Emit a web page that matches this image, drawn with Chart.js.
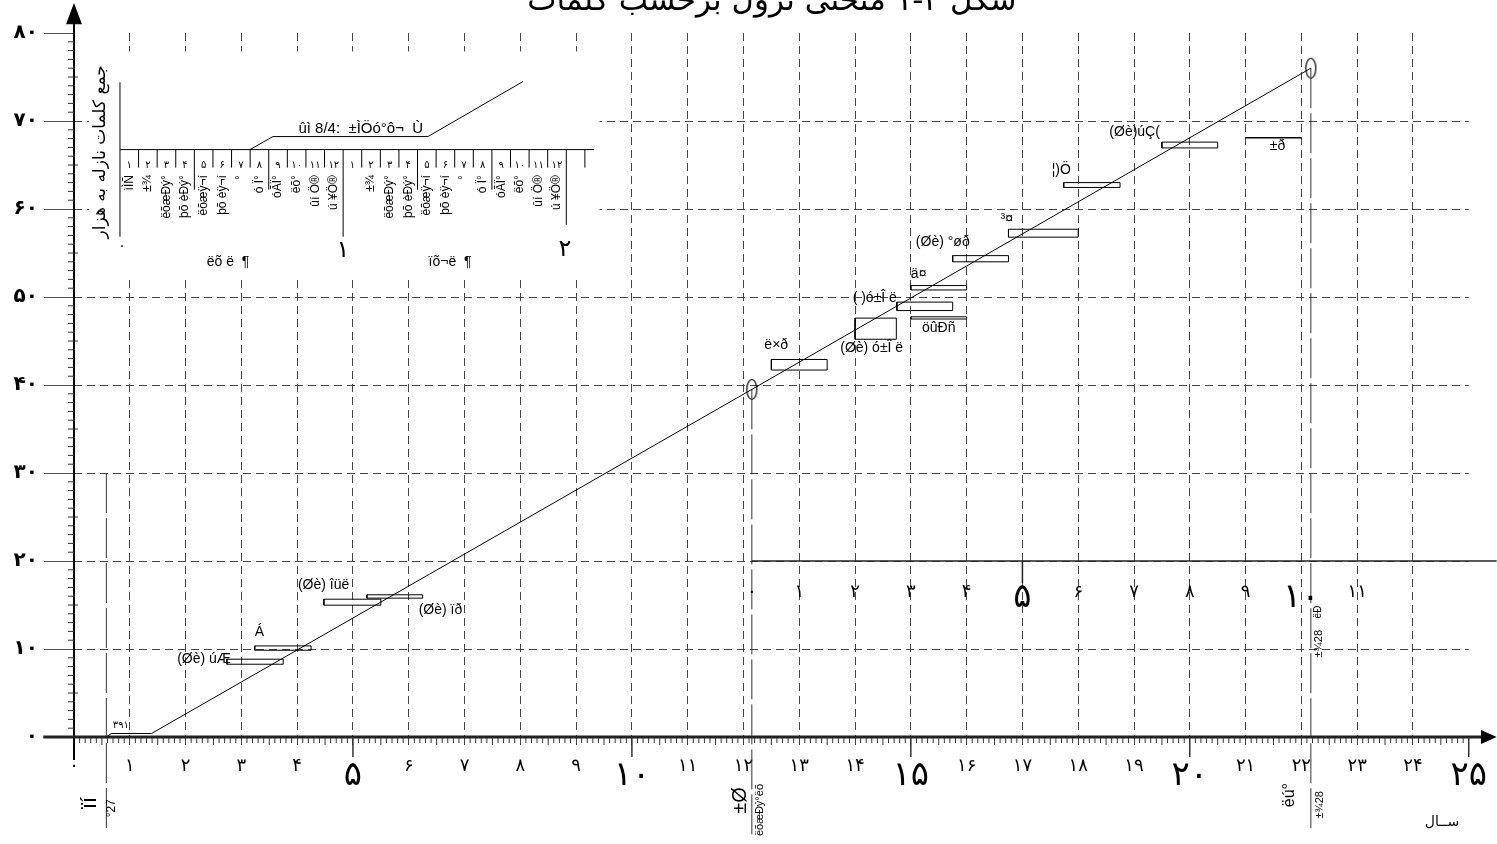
<!DOCTYPE html>
<html>
<head>
<meta charset="utf-8">
<script src="https://cdn.jsdelivr.net/npm/chart.js@4.4.0/dist/chart.umd.min.js"></script>
<style>
	html, body { margin: 0; padding: 0; background: #fff; }
	#wrap { width: 1497px; height: 844px; }
</style>
</head>
<body>
<div id="wrap"><canvas id="chart" width="1497" height="844"></canvas></div>
<script>
// main descent curve (years, thousand words)
const curveYears = [0.58, 0.67, 1.39, 12.15, 22.17];
const curveWords = [0, 0.4, 0.4, 39.5, 76];

// ellipse marks on the curve
const markYears = [12.15, 22.17];
const markWords = [39.5, 76];

// interval boxes along the curve
const boxLabels = ['(Øè) úÆ', 'Á', '(Øè) îüë', '(Øè) ïð', 'ë×ð', '(Øè) ó±Î ë', '( )ó±Î ë', 'öûÐñ', 'ä¤', '(Øè) °øð', '³¤', '¦)Ö', '(Øè)úÇ(', '±ð'];
const boxFrom = [2.74, 3.24, 4.48, 5.25, 12.5, 14.0, 14.75, 15.0, 15.0, 15.75, 16.75, 17.74, 19.5, 21.0];
const boxTo = [3.75, 4.25, 5.5, 6.25, 13.5, 14.74, 15.75, 16.0, 16.0, 16.75, 18.0, 18.75, 20.5, 22.0];
const boxLow = [8.27, 9.86, 14.98, 15.78, 41.7, 45.2, 48.46, 47.5, 50.8, 54.0, 56.8, 62.45, 66.94, 68.1];
const boxHigh = [8.84, 10.35, 15.66, 16.16, 42.9, 47.6, 49.42, 47.75, 51.3, 54.7, 57.7, 63.0, 67.6, 68.1];

// vertical reference lines
const refYears = [0.58, 12.15, 22.17];
const refTop = [30, 39.5, 76];
const refBottom = [-10.8, -11.1, -10.8];

// secondary scale drawn on the 20 line
const subTickYears = [12.15, 13, 14, 15, 16, 17, 18, 19, 20, 21, 22, 23];
const subTickLabels = ['۰', '۱', '۲', '۳', '۴', '۵', '۶', '۷', '۸', '۹', '۱۰', '۱۱'];
const subAxisLevel = 20;

// inset: months of the first two years
const insetMonths = ['۱', '۲', '۳', '۴', '۵', '۶', '۷', '۸', '۹', '۱۰', '۱۱', '۱۲'];
const insetNames1 = ['ìÌÑ', '±¾', 'ëõæÐý°', 'þõ èÐý°', 'ëõæÿ¬í', 'þõ èÿ¬í', '°', 'ó Ï°', 'óÃÏ°', 'ëõ°', 'ûí Ö®', 'ú ¥Ö®'];
const insetNames2 = ['', '±¾', 'ëõæÐý°', 'þõ èÐý°', 'ëõæÿ¬í', 'þõ èÿ¬í', '°', 'ó Ï°', 'óÃÏ°', 'ëõ°', 'ûí Ö®', 'ú ¥Ö®'];
const insetYears = ['۰', '۱', '۲'];
const insetPeriods = ['ëõ ë  ¶', 'ïõ¬ë  ¶'];
const insetTitle = 'ûì 8/4:  ±ÌÖó°ô¬  Ù';

// texts
const chartTitle = 'شکل ۲-۱ منحنی نزول برحسب کلمات';
const yTitle = 'جمع کلمات نازله به هزار';
const xTitle = 'ســال';
const startNote = '۳۹۱';
const bottomNotes = ['ïí', '°27', '±Ø', 'ëõæÐý°ëõ', 'ëú°', '±¾28', 'ëÐ', '±¾28'];

// ---- layout (positions in axis units, sizes in px) ----
const labelPlace = [
	{ at: 'x0', dx: 4, dy: 0, align: 'right', yAt: 'high' },
	{ at: 'x0', dx: 0, dy: -14, align: 'left', yAt: 'high' },
	{ at: 'x0', dx: -26, dy: -14, align: 'left', yAt: 'high' },
	{ at: 'x1', dx: -4, dy: 12, align: 'left', yAt: 'low' },
	{ at: 'x0', dx: -7, dy: -14, align: 'left', yAt: 'high' },
	{ at: 'mid', dx: -4, dy: 9, align: 'center', yAt: 'low' },
	{ at: 'x0', dx: 0, dy: -4, align: 'right', yAt: 'high' },
	{ at: 'mid', dx: 0, dy: 9, align: 'center', yAt: 'low' },
	{ at: 'x0', dx: 0, dy: -11, align: 'left', yAt: 'high' },
	{ at: 'x0', dx: 17, dy: -13, align: 'right', yAt: 'high' },
	{ at: 'x0', dx: -8, dy: -10, align: 'left', yAt: 'high' },
	{ at: 'x0', dx: -12, dy: -12, align: 'left', yAt: 'high' },
	{ at: 'x0', dx: -2, dy: -10, align: 'right', yAt: 'high' },
	{ at: 'mid', dx: 4, dy: 8, align: 'center', yAt: 'low' },
];
const notePlace = [
	{ x: 0.28, y: -7.5, size: 22 }, { x: 0.68, y: -8.1, size: 12 },
	{ x: 11.94, y: -7.2, size: 20 }, { x: 12.29, y: -8.3, size: 11 },
	{ x: 21.79, y: -6.6, size: 16 }, { x: 22.33, y: -7.7, size: 11 },
	{ x: 22.31, y: 14.2, size: 10 }, { x: 22.31, y: 10.6, size: 11 },
];

const FA = 'DejaVu Sans';
const LAT = 'Liberation Sans';
const toFa = v => String(v).replace(/\d/g, d => '۰۱۲۳۴۵۶۷۸۹'[d]);

// tall ellipse used as point style
let ellipse = document.createElement('canvas');
ellipse.width = 13;
ellipse.height = 23;
let ectx = ellipse.getContext('2d');
ectx.strokeStyle = '#000';
ectx.lineWidth = 1.2;
ectx.beginPath();
ectx.ellipse(6.5, 11.5, 5, 10, 0, 0, Math.PI * 2);
ectx.stroke();

let line = (data, extra = {}) => ({
	data,
	showLine: true,
	borderColor: '#000',
	borderWidth: 1,
	pointRadius: 0,
	fill: false,
	...extra,
});

let datasets = [];
datasets.push(line(curveYears.map((x, i) => ({ x, y: curveWords[i] }))));
boxLabels.forEach((_, i) => {
	let x0 = boxFrom[i], x1 = boxTo[i], lo = boxLow[i], hi = boxHigh[i];
	datasets.push(line([{ x: x0, y: lo }, { x: x1, y: lo }, { x: x1, y: hi }, { x: x0, y: hi }, { x: x0, y: lo }], { borderWidth: lo === hi ? 1.5 : 1 }));
});
refYears.forEach((x, i) => {
	datasets.push(line([{ x, y: refTop[i] }, { x, y: refBottom[i] }], {
		clip: false,
		borderDash: [40, 5],
		borderColor: '#333',
	}));
});
datasets.push({
	data: markYears.map((x, i) => ({ x, y: markWords[i] })),
	pointStyle: ellipse,
	pointRadius: 10,
	showLine: false,
});

// everything the scales do not draw themselves
let decorations = {
	id: 'decorations',
	beforeDatasetsDraw (chart) {
		let { ctx, scales: { x: xs, y: ys } } = chart;
		let px = v => xs.getPixelForValue(v);
		let py = v => ys.getPixelForValue(v);
		// white ground of the inset
		ctx.save();
		ctx.fillStyle = '#fff';
		ctx.fillRect(px(0.27), py(77.9), px(9.42) - px(0.27), py(52.2) - py(77.9));
		ctx.restore();
	},
	afterDatasetsDraw (chart) {
		let { ctx, scales: { x: xs, y: ys } } = chart;
		let px = v => xs.getPixelForValue(v);
		let py = v => ys.getPixelForValue(v);
		let seg = (x1, y1, x2, y2) => { ctx.beginPath(); ctx.moveTo(x1, y1); ctx.lineTo(x2, y2); ctx.stroke(); };
		let text = (s, x, y, font, align = 'center', rot = 0) => {
			ctx.save();
			ctx.translate(x, y);
			if (rot) { ctx.rotate(rot); }
			ctx.font = font;
			ctx.textAlign = align;
			ctx.textBaseline = 'middle';
			ctx.fillText(s, 0, 0);
			ctx.restore();
		};

		ctx.save();
		ctx.fillStyle = '#000';
		ctx.strokeStyle = '#000';

		// axes with arrows
		let ox = px(0), oy = py(0);
		ctx.lineWidth = 2;
		seg(ox, py(-2.6), ox, py(81.2));
		ctx.beginPath();
		ctx.moveTo(ox, py(83.4));
		ctx.lineTo(ox - 8, py(81));
		ctx.lineTo(ox + 8, py(81));
		ctx.fill();
		ctx.lineWidth = 3;
		ctx.strokeStyle = '#222';
		seg(px(-0.55), oy, px(25.3), oy);
		ctx.beginPath();
		ctx.moveTo(px(25.5), oy);
		ctx.lineTo(px(25.22), oy - 7);
		ctx.lineTo(px(25.22), oy + 7);
		ctx.fill();

		// minor ticks
		ctx.lineWidth = 1;
		ctx.strokeStyle = '#333';
		for (let i = 1; i < 250; i++) {
			if (i % 10 === 0) { continue; }
			seg(px(i / 10), oy + 1, px(i / 10), oy + (i % 5 === 0 ? 8 : 6));
		}
		for (let v = 1; v < 80; v++) {
			if (v % 10 === 0) { continue; }
			seg(ox - 6, py(v), ox + (v % 5 === 0 ? 4 : 0), py(v));
		}
		ctx.lineWidth = 1.5;
		for (let v = 5; v <= 25; v += 5) {
			seg(px(v), oy, px(v), oy + 20);
		}

		// secondary scale on the 20 line
		ctx.lineWidth = 1.5;
		ctx.strokeStyle = '#222';
		seg(px(subTickYears[0]), py(subAxisLevel), px(25.5), py(subAxisLevel));
		seg(px(17), py(subAxisLevel), px(17), py(subAxisLevel) + 22);
		subTickLabels.forEach((s, i) => {
			let big = s === '۵' || s === '۱۰';
			text(s, px(subTickYears[i]), py(subAxisLevel) + (big ? 37 : 31), `${big ? 34 : 18}px ${FA}`);
		});

		// inset of months
		let ix0 = 0.824, mw = 1 / 3, base = 66.75;
		ctx.lineWidth = 1;
		ctx.strokeStyle = '#000';
		seg(px(ix0), py(base), px(ix0 + 25.5 * mw), py(base));
		seg(px(ix0), py(74.4), px(ix0), py(56.85));
		for (let k = 1; k <= 25; k++) {
			let bottom = k === 12 ? 56.85 : k === 24 ? 58.2 : (k % 12 === 4 || k % 12 === 8) ? 62.2 : 64.7;
			seg(px(ix0 + k * mw), py(base), px(ix0 + k * mw), py(bottom));
		}
		[insetNames1, insetNames2].forEach((names, yr) => {
			insetMonths.forEach((m, k) => {
				let cx = px(ix0 + (yr * 12 + k + 0.5) * mw);
				text(m, cx, py(65.0), `10px ${FA}`);
				if (names[k]) {
					text(names[k], cx, py(63.85), `12px ${LAT}`, 'right', -Math.PI / 2);
				}
			});
		});
		text(insetYears[0], px(0.86), py(55.7), `14px ${FA}`);
		text(insetYears[1], px(4.82), py(55.2), `24px ${FA}`);
		text(insetYears[2], px(8.8), py(55.4), `24px ${FA}`);
		text(insetPeriods[0], px(2.76), py(54.0), `14px ${LAT}`);
		text(insetPeriods[1], px(6.74), py(54.0), `14px ${LAT}`);
		ctx.beginPath();
		ctx.moveTo(px(3.154), py(66.75));
		ctx.lineTo(px(3.566), py(68.23));
		ctx.lineTo(px(6.344), py(68.23));
		ctx.lineTo(px(8.047), py(74.48));
		ctx.stroke();
		text(insetTitle, px(5.14), py(69.1), `15px ${LAT}`);

		// box labels
		boxLabels.forEach((s, i) => {
			let p = labelPlace[i];
			let ax = p.at === 'x0' ? px(boxFrom[i]) : p.at === 'x1' ? px(boxTo[i]) : (px(boxFrom[i]) + px(boxTo[i])) / 2;
			let ay = p.yAt === 'high' ? py(boxHigh[i]) : py(boxLow[i]);
			text(s, ax + p.dx, ay + p.dy, `14px ${LAT}`, p.align);
		});

		// rotated notes below the axis and on the secondary scale
		bottomNotes.forEach((s, i) => {
			let p = notePlace[i];
			text(s, px(p.x), py(p.y), `${p.size}px ${LAT}`, 'center', -Math.PI / 2);
		});
		text(startNote, px(0.84), py(1.3), `10px ${FA}`);

		// titles
		text(yTitle, px(0.47), py(66.5), `17px ${FA}`, 'center', -Math.PI / 2);
		text(xTitle, px(24.52), py(-9.7), `14px ${FA}`);
		ctx.font = `31px ${FA}`;
		ctx.textAlign = 'center';
		ctx.textBaseline = 'alphabetic';
		ctx.fillText(chartTitle, px(12.51), 10);

		ctx.restore();
	},
};

new Chart(document.getElementById('chart'), {
	type: 'scatter',
	data: { datasets },
	options: {
		responsive: false,
		animation: false,
		devicePixelRatio: 1,
		layout: { padding: { top: 33, right: 28, left: 0, bottom: 0 } },
		plugins: {
			legend: { display: false },
			tooltip: { enabled: false },
		},
		scales: {
			x: {
				type: 'linear',
				min: 0,
				max: 25,
				afterFit (scale) { scale.height = 107; },
				ticks: {
					stepSize: 1,
					autoSkip: false,
					maxRotation: 0,
					padding: 10,
					color: '#000',
					callback: v => toFa(v),
					font: c => ({ family: FA, size: (c.tick && c.tick.value % 5 === 0 && c.tick.value > 0) ? 34 : 18 }),
				},
				grid: {
					color: c => (c.tick && (c.tick.value === 0 || c.tick.value === 25)) ? 'rgba(0,0,0,0)' : '#444',
					lineWidth: 1,
					tickLength: 9,
					tickColor: c => (c.tick && c.tick.value === 0) ? 'rgba(0,0,0,0)' : '#444',
					tickBorderDash: [8, 5],
				},
				border: { display: false, dash: [8, 5] },
			},
			y: {
				type: 'linear',
				min: 0,
				max: 80,
				afterFit (scale) { scale.width = 74; },
				ticks: {
					stepSize: 10,
					padding: 6,
					color: '#000',
					callback: v => toFa(v),
					font: { family: FA, size: 20, weight: 'bold' },
				},
				grid: {
					color: c => (c.tick && (c.tick.value === 0 || c.tick.value === 80)) ? 'rgba(0,0,0,0)' : '#444',
					lineWidth: 1,
					tickLength: 30,
					tickColor: '#555',
				},
				border: { display: false, dash: [8, 5] },
			},
		},
	},
	plugins: [ decorations ],
});
</script>
</body>
</html>
